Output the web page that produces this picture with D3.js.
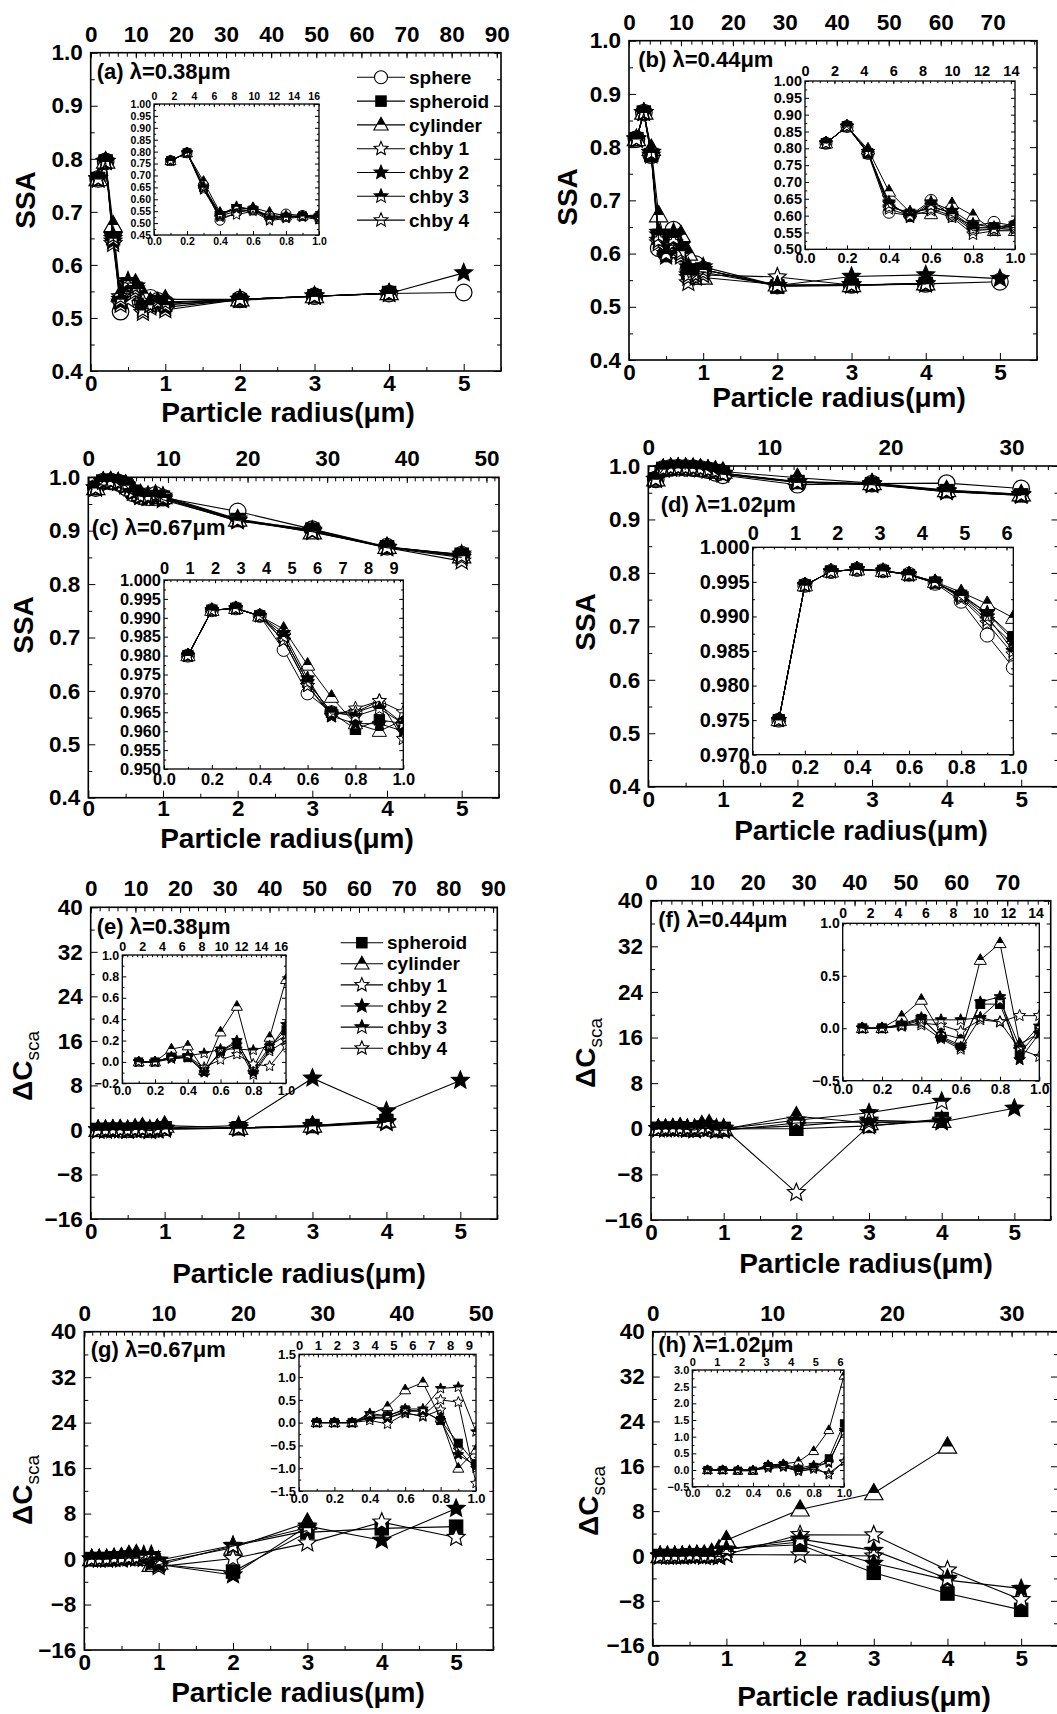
<!DOCTYPE html>
<html><head><meta charset="utf-8">
<script src="https://cdn.jsdelivr.net/npm/d3@7"></script>
<style>
body{margin:0;background:#fff}
text{font-family:"Liberation Sans",Arial,sans-serif;font-weight:bold;fill:#000}
</style>
</head><body><svg id="c" width="1057" height="1714"></svg>
<script>
// ---------------- DATA ----------------
const radius = [0.1,0.2,0.3,0.4,0.5,0.6,0.7,0.8,0.9,1.0,2,3,4,5];
const ssaSeries = ["sphere","spheroid","cylinder","chby 1","chby 2","chby 3","chby 4"];
const dcSeries  = ["spheroid","cylinder","chby 1","chby 2","chby 3","chby 4"];

// (a) SSA, lambda = 0.38 um
const a_sphere   = [0.762,0.795,0.660,0.512,0.545,0.555,0.530,0.538,0.532,0.528,0.535,0.541,0.546,0.548];
const a_spheroid = [0.762,0.795,0.650,0.530,0.550,0.555,0.525,0.525,0.530,0.525,0.533,0.541,0.547,null];
const a_cylinder = [0.762,0.795,0.675,0.545,0.555,0.565,0.545,0.530,0.530,0.535,0.535,0.541,0.547,null];
const a_chby1    = [0.762,0.795,0.640,0.525,0.535,0.550,0.510,0.520,0.525,0.515,0.535,0.541,0.546,null];
const a_chby2    = [0.762,0.795,0.645,0.530,0.565,0.560,0.520,0.525,0.528,0.520,0.535,0.541,0.546,0.585];
const a_chby3    = [0.762,0.795,0.650,0.535,0.570,0.555,0.515,0.525,0.530,0.525,0.535,0.541,0.546,null];
const a_chby4    = [0.762,0.795,0.655,0.540,0.560,0.560,0.530,0.525,0.530,0.530,0.535,0.541,0.546,null];
// (b) SSA, lambda = 0.44 um
const b_sphere   = [0.815,0.865,0.785,0.610,0.600,0.645,0.600,0.570,0.580,0.570,0.540,0.541,0.543,0.547];
const b_spheroid = [0.815,0.865,0.785,0.630,0.605,0.625,0.610,0.565,0.565,0.570,0.538,0.540,0.543,null];
const b_cylinder = [0.815,0.865,0.797,0.672,0.610,0.605,0.635,0.600,0.555,0.555,0.542,0.541,0.544,null];
const b_chby1    = [0.815,0.865,0.790,0.620,0.600,0.615,0.595,0.545,0.555,0.560,0.556,0.541,0.543,null];
const b_chby2    = [0.815,0.865,0.785,0.640,0.595,0.640,0.615,0.575,0.565,0.575,0.540,0.557,0.560,0.553];
const b_chby3    = [0.815,0.865,0.790,0.635,0.600,0.630,0.605,0.560,0.560,0.570,0.540,0.541,0.543,null];
const b_chby4    = [0.815,0.865,0.790,0.625,0.610,0.620,0.600,0.555,0.560,0.565,0.540,0.541,0.543,null];
// (c) SSA, lambda = 0.67 um
const c_sphere   = [0.980,0.992,0.9925,0.9905,0.9815,0.970,0.965,0.965,0.967,0.962,0.936,0.903,0.870,0.855];
const c_spheroid = [0.980,0.992,0.9925,0.9905,0.985,0.973,0.965,0.9605,0.963,0.962,0.920,0.902,0.869,0.855];
const c_cylinder = [0.980,0.992,0.9925,0.9905,0.987,0.9775,0.969,0.962,0.960,0.963,0.921,0.897,0.870,0.852];
const c_chby1    = [0.980,0.992,0.9925,0.9905,0.984,0.972,0.964,0.966,0.968,0.965,0.922,0.900,0.868,0.843];
const c_chby2    = [0.980,0.992,0.9925,0.9905,0.986,0.974,0.964,0.962,0.962,0.960,0.918,0.901,0.869,0.856];
const c_chby3    = [0.980,0.992,0.9925,0.9905,0.985,0.973,0.965,0.964,0.966,0.962,0.920,0.899,0.869,0.853];
const c_chby4    = [0.980,0.992,0.9925,0.9905,0.984,0.972,0.9645,0.965,0.968,0.958,0.919,0.898,0.868,0.850];
// (d) SSA, lambda = 1.02 um
const d_sphere   = [0.975,0.9945,0.9965,0.9968,0.9966,0.9961,0.9948,0.9922,0.9873,0.9826,0.965,0.967,0.968,0.958];
const d_spheroid = [0.975,0.9945,0.9965,0.9968,0.9966,0.9960,0.9949,0.9930,0.9905,0.9870,0.970,0.966,0.953,0.945];
const d_cylinder = [0.975,0.9945,0.9965,0.9968,0.9966,0.9961,0.9950,0.9935,0.9918,0.9898,0.978,0.968,0.955,0.947];
const d_chby1    = [0.975,0.9945,0.9965,0.9968,0.9966,0.9961,0.9950,0.9928,0.9895,0.9860,0.970,0.966,0.952,0.946];
const d_chby2    = [0.975,0.9945,0.9965,0.9968,0.9966,0.9960,0.9948,0.9932,0.9905,0.9865,0.971,0.967,0.954,0.947];
const d_chby3    = [0.975,0.9945,0.9965,0.9968,0.9966,0.9960,0.9949,0.9930,0.9900,0.9850,0.970,0.966,0.953,0.946];
const d_chby4    = [0.975,0.9945,0.9965,0.9968,0.9966,0.9961,0.9950,0.9926,0.9890,0.9845,0.969,0.965,0.952,0.945];
// (e) dCsca, lambda = 0.38 um
const e_spheroid = [0,0,0.05,0.04,-0.09,0.10,0.18,-0.07,0.14,0.30,0.3,0.7,1.6,null];
const e_cylinder = [0,0,0.12,0.15,-0.08,0.28,0.52,-0.05,0.23,0.77,0.4,0.8,1.7,null];
const e_chby1    = [0,0,0.03,0.05,-0.05,0.02,0.07,-0.02,-0.04,0.15,0.3,0.6,1.3,null];
const e_chby2    = [0,0,0.04,0.05,-0.10,0.10,0.20,-0.10,0.12,0.35,0.8,9.3,3.4,8.9];
const e_chby3    = [0,0,0.05,0.06,0.08,0.12,0.12,0.11,0.15,0.25,0.4,0.8,1.5,null];
const e_chby4    = [0,0,0.03,0.04,-0.07,0.08,0.16,-0.12,0.10,0.20,0.3,0.7,1.4,null];
// (f) dCsca, lambda = 0.44 um
const f_spheroid = [0,0,0.03,0.09,-0.08,-0.16,0.23,0.23,-0.24,-0.02,0.0,0.5,1.7,null];
const f_cylinder = [0,0,0.11,0.27,-0.05,-0.10,0.65,0.81,-0.15,-0.05,2.2,1.0,1.4,null];
const f_chby1    = [0,0,0.02,0.05,0.03,-0.03,0.08,0.06,0.12,0.12,-11.2,0.5,1.5,null];
const f_chby2    = [0,0,0.04,0.10,-0.09,-0.18,0.25,0.30,-0.30,-0.05,0.5,1.5,1.2,3.6];
const f_chby3    = [0,0,0.02,0.08,0.08,0.08,0.10,0.27,-0.18,0.02,1.5,2.8,4.8,null];
const f_chby4    = [0,0,0.03,0.03,-0.10,-0.20,0.10,0.06,-0.20,-0.27,1.0,1.2,1.3,null];
// (g) dCsca, lambda = 0.67 um
const g_spheroid = [0,0,0,0.15,0.15,0.28,0.25,0.05,-0.45,-0.90,-2.2,4.7,5.4,5.7];
const g_cylinder = [0,0,0,0.18,0.35,0.72,0.88,0.10,-1.00,-0.60,2.0,6.4,null,null];
const g_chby1    = [0,0,0,0.05,-0.03,0.20,0.15,0.50,0.45,-1.33,0.1,2.8,6.5,3.8];
const g_chby2    = [0,0,0,0.10,0.10,0.25,0.25,0.05,-0.70,-0.95,-2.8,5.8,3.3,8.9];
const g_chby3    = [0,0,0,0.20,0.15,0.30,0.30,0.75,0.78,-0.20,2.4,5.5,null,null];
const g_chby4    = [0,0,0,0.12,0.10,0.22,0.13,0.28,-0.60,-1.00,2.3,5.0,null,null];
// (h) dCsca, lambda = 1.02 um
const h_spheroid = [0,0,-0.02,-0.02,0.12,0.15,0.02,0.08,0.35,1.40,2.0,-3.0,-6.7,-9.6];
const h_cylinder = [0,0,-0.02,-0.02,0.15,0.18,0.25,0.57,1.20,2.83,8.3,11.2,19.5,null];
const h_chby1    = [0,0,0,0,0.08,0.10,0.0,0.10,-0.15,0.25,3.8,3.75,-2.5,-7.8];
const h_chby2    = [0,0,0,0,0.15,0.18,0.05,0.15,0.20,1.20,2.5,-1.3,-4.3,-5.8];
const h_chby3    = [0,0,0,0,0.10,0.12,-0.05,0.05,0.25,1.15,3.0,1.0,-4.0,null];
const h_chby4    = [0,0,0,0,0.05,0.08,-0.02,0.02,-0.10,0.25,0.2,0.0,null,null];

// ---------------- DRAWING ----------------
const svg = d3.select("#c");
svg.append("rect").attr("width",1057).attr("height",1714).attr("fill","#fff");
const defs = svg.append("defs");
defs.append("clipPath").attr("id","topPart").attr("clipPathUnits","objectBoundingBox")
  .append("rect").attr("x",-0.2).attr("y",-0.2).attr("width",1.4).attr("height",0.78);

function starPath(R){
  let p="";
  for(let i=0;i<10;i++){
    const a=-Math.PI/2+i*Math.PI/5, r=(i%2)?R*0.45:R;
    p+=(i?"L":"M")+(r*Math.cos(a)).toFixed(2)+","+(r*Math.sin(a)).toFixed(2);
  }
  return p+"Z";
}
function triPath(s){ return `M0,${-s*1.05}L${s*1.0},${s*0.72}L${-s*1.0},${s*0.72}Z`; }

function marker(g, name, cx, cy, s, sw){
  const m=g.append("g").attr("transform",`translate(${cx},${cy})`);
  const st=(sel,fill)=>sel.attr("fill",fill).attr("stroke","#000").attr("stroke-width",sw);
  switch(name){
    case "sphere": st(m.append("circle").attr("r",s),"#fff"); break;
    case "spheroid": st(m.append("rect").attr("x",-s*0.8).attr("y",-s*0.8).attr("width",s*1.6).attr("height",s*1.6),"#000"); break;
    case "cylinder":
      st(m.append("path").attr("d",triPath(s*1.1)),"#fff");
      m.append("path").attr("d",triPath(s*1.1)).attr("fill","#000").attr("clip-path","url(#topPart)"); break;
    case "chby 1": st(m.append("path").attr("d",starPath(s*1.12)),"#fff"); break;
    case "chby 2": st(m.append("path").attr("d",starPath(s*1.12)),"#000"); break;
    case "chby 3":
      st(m.append("path").attr("d",starPath(s*1.12)),"#fff");
      m.append("path").attr("d",starPath(s*1.12)).attr("fill","#000").attr("clip-path","url(#topPart)"); break;
    case "chby 4": st(m.append("path").attr("d",starPath(s*1.12)),"none"); break;
  }
}

function range(a,b,s){ const r=[]; for(let v=a; v<=b+s*1e-6; v+=s) r.push(+v.toFixed(6)); return r; }

function frame(g, box, xs, ys, xts, o){
  const fix=sel=>{sel.select(".domain").remove(); sel.attr("font-size",o.fs); sel.selectAll("line").attr("stroke-width",o.tw);};
  g.append("g").attr("transform",`translate(0,${box.B})`)
    .call(d3.axisBottom(xs).tickValues(o.xTicks).tickFormat(d3.format(o.xFmt)).tickSize(-o.maj).tickPadding(o.padB)).call(fix);
  g.append("g").attr("transform",`translate(0,${box.B})`)
    .call(d3.axisBottom(xs).tickValues(o.xMinor).tickFormat("").tickSize(-o.min)).call(fix);
  g.append("g").attr("transform",`translate(${box.L},0)`)
    .call(d3.axisLeft(ys).tickValues(o.yTicks).tickFormat(d3.format(o.yFmt)).tickSize(-o.maj).tickPadding(o.padL)).call(fix);
  g.append("g").attr("transform",`translate(${box.L},0)`)
    .call(d3.axisLeft(ys).tickValues(o.yMinor).tickFormat("").tickSize(-o.min)).call(fix);
  g.append("g").attr("transform",`translate(${box.R},0)`)
    .call(d3.axisRight(ys).tickValues(o.yTicks).tickFormat("").tickSize(-o.maj)).call(fix);
  g.append("g").attr("transform",`translate(${box.R},0)`)
    .call(d3.axisRight(ys).tickValues(o.yMinor).tickFormat("").tickSize(-o.min)).call(fix);
  g.append("g").attr("transform",`translate(0,${box.T})`)
    .call(d3.axisTop(xts).tickValues(o.tTicks).tickFormat(d3.format("d")).tickSize(-o.maj*0.8).tickPadding(o.padT)).call(fix);
  g.append("g").attr("transform",`translate(0,${box.T})`)
    .call(d3.axisTop(xts).tickValues(o.tMinor).tickFormat("").tickSize(-o.min)).call(fix);
  g.append("rect").attr("x",box.L).attr("y",box.T).attr("width",box.R-box.L).attr("height",box.B-box.T)
    .attr("fill","none").attr("stroke","#000").attr("stroke-width",o.fw);
}

function series(g, xs, ys, names, arrays, nmax, ms, sw, lw){
  names.forEach((nm,i)=>{
    const pts=radius.map((r,j)=>({x:r,y:arrays[i][j]})).slice(0,nmax).filter(d=>d.y!=null);
    g.append("path").attr("d",d3.line().x(d=>xs(d.x)).y(d=>ys(d.y))(pts))
      .attr("fill","none").attr("stroke","#000").attr("stroke-width",lw);
    pts.forEach(d=>marker(g,nm,xs(d.x),ys(d.y),ms,sw));
  });
}

let clipId=0;
function panel(p){
  const g=svg.append("g");
  const box=p.box;
  const xs=d3.scaleLinear().domain([0,5.5]).range([box.L,box.R]);
  const ys=d3.scaleLinear().domain(p.yDom).range([box.B,box.T]);
  const tMax=5.5*2*Math.PI/p.lam;
  const xts=d3.scaleLinear().domain([0,tMax]).range([box.L,box.R]);
  series(g.append("g"), xs, ys, p.names, p.data, 14, 8.3, 1.2, 1.1);
  frame(g, box, xs, ys, xts, {
    fs:22.5, tw:1, fw:1.6, maj:7, min:4, padB:p.padB ?? 4, padL:8, padT:11, xFmt:"d", yFmt:p.yFmt,
    xTicks:range(0,5,1), xMinor:range(0.5,5.5,1),
    yTicks:range(p.yDom[0],p.yDom[1],p.yStep), yMinor:range(p.yDom[0]+p.yStep/2,p.yDom[1],p.yStep),
    tTicks:range(0,Math.floor(tMax/p.topStep)*p.topStep,p.topStep), tMinor:range(0,tMax,p.topMinor)
  });
  const q=p.inset;
  const ib={L:q.L,T:q.T,R:q.R,B:q.B};
  g.append("rect").attr("x",ib.L).attr("y",ib.T).attr("width",ib.R-ib.L).attr("height",ib.B-ib.T).attr("fill","#fff");
  const ixs=d3.scaleLinear().domain([0,1]).range([ib.L,ib.R]);
  const iys=d3.scaleLinear().domain(q.yDom).range([ib.B,ib.T]);
  const itMax=2*Math.PI/p.lam;
  const ixts=d3.scaleLinear().domain([0,itMax]).range([ib.L,ib.R]);
  const cid="clip"+(clipId++);
  defs.append("clipPath").attr("id",cid).append("rect").attr("x",ib.L).attr("y",ib.T).attr("width",ib.R-ib.L).attr("height",ib.B-ib.T);
  series(g.append("g").attr("clip-path",`url(#${cid})`), ixs, iys, p.names, p.data, 10, q.ms, 1, 1);
  frame(g, ib, ixs, iys, ixts, {
    fs:q.fs, tw:1, fw:1.3, maj:4, min:2.2, padB:q.fs*0.25, padL:3, padT:q.fs*0.35, xFmt:".1f", yFmt:q.yFmt,
    xTicks:range(0,1,0.2), xMinor:range(0.1,0.9,0.2),
    yTicks:range(q.yDom[0],q.yDom[1],q.yStep), yMinor:range(q.yDom[0]+q.yStep/2,q.yDom[1],q.yStep),
    tTicks:range(0,Math.floor(itMax/q.topStep)*q.topStep,q.topStep), tMinor:range(0,itMax,q.topMinor)
  });
  g.append("text").attr("x",p.title[1]).attr("y",p.title[2]).style("font-size","22px").text(p.title[0]);
  g.append("text").attr("x",p.xlab[0]).attr("y",p.xlab[1]).attr("text-anchor","middle").style("font-size","28px")
    .text("Particle radius(μm)");
  const yl=g.append("text").attr("transform",`translate(${p.ylab[0]},${p.ylab[1]}) rotate(-90)`)
    .attr("text-anchor","middle").style("font-size","28px");
  if(p.kind==="ssa"){ yl.text("SSA"); }
  else {
    yl.append("tspan").text("ΔC");
    yl.append("tspan").attr("dy",7).style("font-size","19px").style("font-weight","normal").text("sca");
  }
  if(p.legend){
    p.names.forEach((nm,i)=>{
      const yy=p.legend.y0+i*p.legend.dy;
      g.append("line").attr("x1",p.legend.x0).attr("x2",p.legend.x1).attr("y1",yy).attr("y2",yy)
        .attr("stroke","#000").attr("stroke-width",1.1);
      marker(g,nm,(p.legend.x0+p.legend.x1)/2,yy,6.5,1.1);
      g.append("text").attr("x",p.legend.x1+4).attr("y",yy).attr("dy","0.35em").style("font-size","19px").text(nm);
    });
  }
}

const panelDefs=[
 {kind:"ssa", lam:0.38, box:{L:90.7,T:52.7,R:501,B:371}, yDom:[0.4,1.0], yStep:0.1, yFmt:".1f", topStep:10, topMinor:2,
  title:["(a) λ=0.38μm",96.7,79], xlab:[288,422], ylab:[35,200], names:ssaSeries,
  data:[a_sphere,a_spheroid,a_cylinder,a_chby1,a_chby2,a_chby3,a_chby4],
  legend:{x0:357,x1:405,y0:77.3,dy:23.8},
  inset:{L:154,T:104,R:319,B:235,yDom:[0.45,1.0],yStep:0.05,yFmt:".2f",fs:10.5,topStep:2,topMinor:0.5,ms:5}},
 {kind:"ssa", lam:0.44, box:{L:629,T:40.7,R:1037,B:360}, yDom:[0.4,1.0], yStep:0.1, yFmt:".1f", topStep:10, topMinor:2,
  title:["(b) λ=0.44μm",638.3,66.7], xlab:[839,407], ylab:[577,197], names:ssaSeries,
  data:[b_sphere,b_spheroid,b_cylinder,b_chby1,b_chby2,b_chby3,b_chby4],
  inset:{L:805,T:81,R:1015,B:249.3,yDom:[0.5,1.0],yStep:0.05,yFmt:".2f",fs:14.5,topStep:2,topMinor:0.5,ms:6}},
 {kind:"ssa", lam:0.67, box:{L:88.3,T:477.3,R:499,B:797.7}, yDom:[0.4,1.0], yStep:0.1, yFmt:".1f", topStep:10, topMinor:1,
  title:["(c) λ=0.67μm",91.7,535], xlab:[287,848], ylab:[33,625], names:ssaSeries, padB:2,
  data:[c_sphere,c_spheroid,c_cylinder,c_chby1,c_chby2,c_chby3,c_chby4],
  inset:{L:164,T:580,R:403.3,B:769,yDom:[0.95,1.0],yStep:0.005,yFmt:".3f",fs:16.4,topStep:1,topMinor:0.25,ms:6.5}},
 {kind:"ssa", lam:1.02, box:{L:648.3,T:466,R:1058.5,B:786.7}, yDom:[0.4,1.0], yStep:0.1, yFmt:".1f", topStep:10, topMinor:1,
  title:["(d)  λ=1.02μm",660.7,511.7], xlab:[861,840], ylab:[595,622], names:ssaSeries,
  data:[d_sphere,d_spheroid,d_cylinder,d_chby1,d_chby2,d_chby3,d_chby4],
  inset:{L:752.7,T:547.3,R:1013.3,B:754.7,yDom:[0.97,1.0],yStep:0.005,yFmt:".3f",fs:20,topStep:1,topMinor:0.25,ms:7}},
 {kind:"dc", lam:0.38, box:{L:90.7,T:907.3,R:497.3,B:1219}, yDom:[-16,40], yStep:8, yFmt:"d", topStep:10, topMinor:2,
  title:["(e) λ=0.38μm",96.7,934], xlab:[299,1283], ylab:[32,1066], names:dcSeries,
  data:[e_spheroid,e_cylinder,e_chby1,e_chby2,e_chby3,e_chby4],
  legend:{x0:340.7,x1:383,y0:942.7,dy:21.1},
  inset:{L:122.3,T:955,R:286,B:1083.3,yDom:[-0.2,1.0],yStep:0.2,yFmt:".1f",fs:12.5,topStep:2,topMinor:0.5,ms:5}},
 {kind:"dc", lam:0.44, box:{L:651,T:900.7,R:1050.7,B:1220}, yDom:[-16,40], yStep:8, yFmt:"d", topStep:10, topMinor:2,
  title:["(f)  λ=0.44μm",658.3,927.3], xlab:[866,1273], ylab:[595,1053], names:dcSeries,
  data:[f_spheroid,f_cylinder,f_chby1,f_chby2,f_chby3,f_chby4],
  inset:{L:842.7,T:923.3,R:1039.3,B:1080.7,yDom:[-0.5,1.0],yStep:0.5,yFmt:".1f",fs:14,topStep:2,topMinor:0.5,ms:5.5}},
 {kind:"dc", lam:0.67, box:{L:84.3,T:1331.7,R:493.3,B:1650}, yDom:[-16,40], yStep:8, yFmt:"d", topStep:10, topMinor:1,
  title:["(g) λ=0.67μm",90.7,1357.3], xlab:[298,1702], ylab:[32,1490], names:dcSeries,
  data:[g_spheroid,g_cylinder,g_chby1,g_chby2,g_chby3,g_chby4],
  inset:{L:299,T:1354.3,R:476,B:1491,yDom:[-1.5,1.5],yStep:0.5,yFmt:".1f",fs:13,topStep:1,topMinor:0.25,ms:5}},
 {kind:"dc", lam:1.02, box:{L:652.7,T:1331.7,R:1058,B:1645.7}, yDom:[-16,40], yStep:8, yFmt:"d", topStep:10, topMinor:1,
  title:["(h) λ=1.02μm",658.3,1352.3], xlab:[864,1706], ylab:[598,1501], names:dcSeries,
  data:[h_spheroid,h_cylinder,h_chby1,h_chby2,h_chby3,h_chby4],
  inset:{L:692.3,T:1370,R:844,B:1486.7,yDom:[-0.5,3.0],yStep:0.5,yFmt:".1f",fs:11,topStep:1,topMinor:0.25,ms:4.5}}
];
panelDefs.forEach(panel);
</script></body></html>
